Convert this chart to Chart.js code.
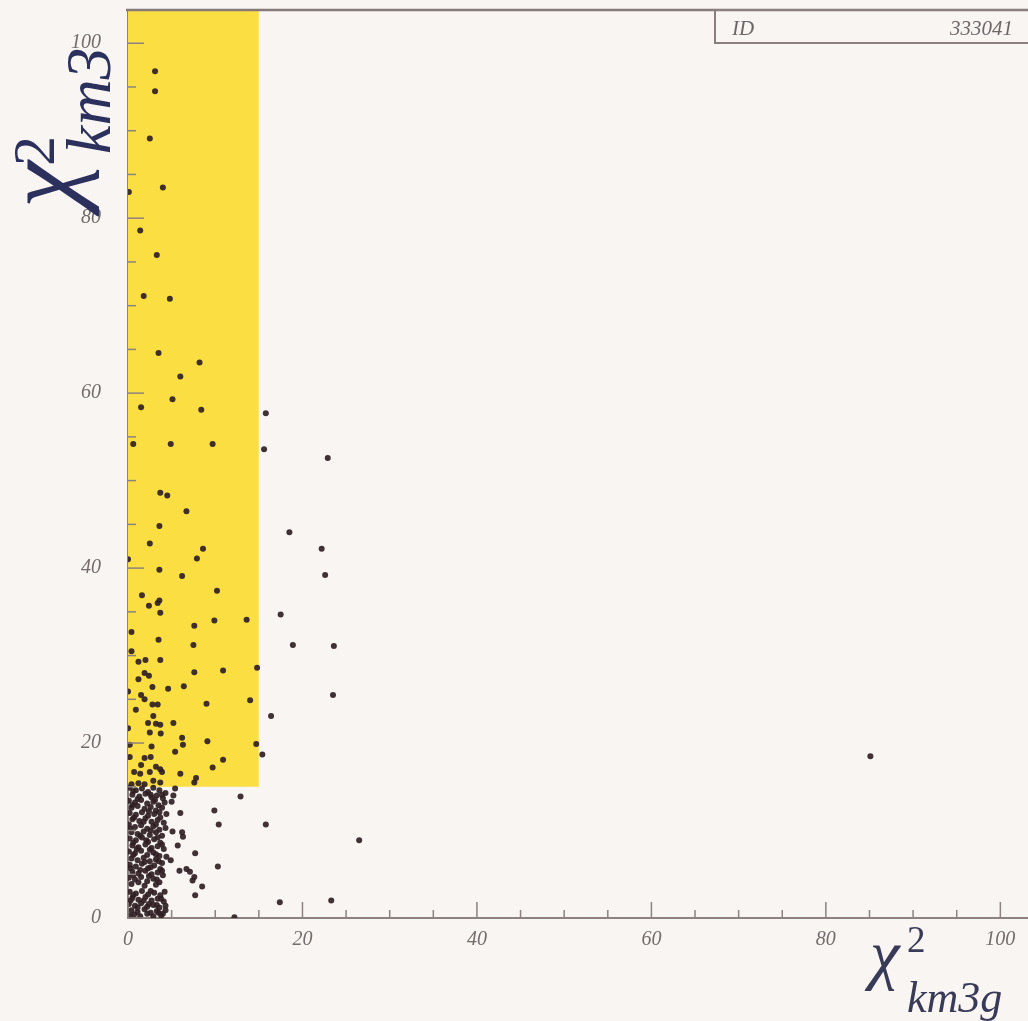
<!DOCTYPE html>
<html>
<head>
<meta charset="utf-8">
<title>chi2 km3 vs km3g</title>
<script src="https://cdn.jsdelivr.net/npm/chart.js@4.4.1/dist/chart.umd.min.js"></script>
<style>
    html, body { margin: 0; padding: 0; background: #f8f5f3; overflow: hidden; }
    #wrap { position: relative; width: 1040px; height: 1021px; }
</style>
</head>
<body>
<div id="wrap"><canvas id="myChart"></canvas></div>
<script>
// Axis ranges and labels
const xRange = [0, 103.4];
const yRange = [0, 103.8];
const tickStep = 5;
const labelStep = 20;
const histId = '333041';

// Cut region (yellow): chi2_km3g < 15 and chi2_km3 > 15
const cutX = [0, 15];
const cutY = 15;

// Events inside the cut region
const cutEvents = [
    [3.1,96.8],[3.1,94.5],[2.5,89.1],[4.0,83.5],[0.1,83.0],[1.4,78.6],[3.3,75.8],[1.8,71.1],
    [4.8,70.8],[3.5,64.6],[8.2,63.5],[6.0,61.9],[5.1,59.3],[1.5,58.4],[8.4,58.1],[0.6,54.2],
    [4.9,54.2],[9.7,54.2],[3.7,48.6],[4.5,48.3],[6.7,46.5],[3.6,44.8],[2.5,42.8],[8.6,42.2],
    [7.9,41.1],[0.0,41.0],[3.6,39.8],[6.2,39.1],[10.2,37.4],[1.6,36.9],[3.6,36.3],[3.4,36.0],
    [2.4,35.7],[3.7,34.9],[9.9,34.0],[13.6,34.1],[7.6,33.4],[0.4,32.7],[3.5,31.8],[7.5,31.2],
    [0.4,30.5],[3.7,29.5],[1.2,29.3],[2.0,29.5],[7.6,28.1],[10.9,28.3],[14.8,28.6],[1.9,28.0],
    [2.4,27.7],[1.2,27.3],[2.8,26.4],[4.6,26.2],[6.4,26.5],[0.0,25.9],[1.5,25.5],[1.9,25.0],
    [2.8,24.4],[3.4,24.4],[9.0,24.5],[14.0,24.9],[0.9,23.8],[2.9,23.1],[2.3,22.3],[3.2,22.2],
    [3.7,22.1],[5.2,22.3],[2.5,21.2],[3.75,21.1],[0.0,21.7],[6.2,20.6],[9.1,20.2],[14.7,19.9],
    [0.2,19.8],[2.7,19.6],[6.3,19.8],[15.4,18.7],[5.4,19.0],[0.2,18.4],[1.9,18.3],[2.6,18.4],
    [10.9,18.1],[1.5,17.5],[3.2,17.3],[3.7,17.0],[3.9,16.7],[9.7,17.2],[0.7,16.7],[1.4,16.5],
    [2.5,16.7],[6.0,16.5],[2.9,15.7],[3.7,15.5],[7.8,16.0],[7.6,15.5],[0.4,15.3],[1.2,15.4],
    [1.9,15.3]
];

// Events outside the cut, away from the core
const outerEvents = [
    [15.8,57.7],[15.6,53.6],[22.9,52.6],[18.5,44.1],[22.2,42.2],[22.6,39.2],[17.5,34.7],
    [18.9,31.2],[23.6,31.1],[23.5,25.5],[16.4,23.1],[15.8,10.7],[26.5,8.9],[17.4,1.8],
    [23.3,2.0],[85.1,18.5],[12.9,13.9],[9.9,12.3],[10.4,10.7],[12.2,0.1],[10.3,5.9],
    [5.4,14.8],[5.2,14.0],[5.0,13.3],[6.0,12.0],[5.1,9.9],[6.2,9.8],[6.3,9.3],[5.7,8.3],
    [7.7,7.4],[4.9,6.6],[5.9,5.4],[6.7,5.6],[7.1,5.3],[7.6,4.7],[7.4,4.3],[8.5,3.6],[7.7,2.6]
];

// Dense core at low chi2
const coreEvents = [
    [0.2,14.9],[0.9,14.6],[1.6,14.8],[2.3,14.4],[2.9,14.9],[3.6,14.6],[4.3,14.3],[0.5,14.1],
    [1.3,13.9],[2.0,14.2],[2.7,13.8],[3.3,14.0],[4.0,13.7],[0.1,13.4],[0.8,13.2],[1.5,13.5],
    [2.2,13.1],[2.9,13.3],[3.5,12.9],[4.2,13.2],[0.4,12.6],[1.1,12.8],[1.9,12.5],[2.6,12.7],
    [3.2,12.3],[3.9,12.6],[0.2,12.0],[0.9,11.8],[1.6,12.1],[2.3,11.7],[3.0,11.9],[3.7,11.5],
    [4.4,11.9],[0.5,11.3],[1.3,11.1],[2.0,11.4],[2.7,11.0],[3.4,11.2],[4.1,10.9],[0.1,10.7],
    [0.8,10.4],[1.5,10.6],[2.2,10.2],[2.9,10.5],[3.6,10.1],[0.4,9.8],[1.1,9.6],[1.8,9.9],
    [2.5,9.5],[3.2,9.8],[3.9,9.4],[4.3,10.3],[0.2,9.1],[0.9,8.9],[1.6,9.2],[2.3,8.7],
    [3.0,9.0],[3.7,8.6],[0.5,8.3],[1.2,8.1],[2.0,8.4],[2.7,8.0],[3.4,8.2],[4.1,7.9],
    [0.1,7.6],[0.8,7.4],[1.5,7.7],[2.2,7.2],[2.9,7.5],[3.6,7.1],[0.4,6.8],[1.1,6.6],
    [1.8,6.9],[2.5,6.5],[3.2,6.7],[3.9,6.3],[4.4,7.0],[0.2,6.1],[0.9,5.9],[1.6,6.2],
    [2.3,5.7],[3.0,6.0],[3.7,5.6],[0.5,5.3],[1.2,5.1],[2.0,5.4],[2.7,5.0],[3.4,5.2],
    [4.0,4.9],[0.1,4.6],[0.8,4.4],[1.5,4.7],[2.2,4.2],[2.9,4.5],[3.6,4.1],[0.4,3.9],
    [1.9,3.7],[3.2,3.8],[0.2,3.0],[0.9,2.8],[1.6,3.1],[2.3,2.7],[3.0,2.9],[3.7,2.6],
    [4.2,3.0],[0.5,2.3],[1.2,2.1],[2.0,2.4],[2.7,2.0],[3.4,2.2],[4.1,1.9],[0.1,1.6],
    [0.8,1.4],[1.5,1.7],[2.2,1.3],[2.9,1.5],[3.6,1.2],[4.3,1.4],[0.4,0.9],[1.1,0.7],
    [1.9,1.0],[2.6,0.6],[3.3,0.8],[4.0,0.5],[0.2,0.3],[1.4,0.2],[2.9,0.2],[3.8,0.3]
];

// Extra core events filling the densest part
const coreFill = [
    [0.6,14.5],[2.6,14.1],[3.9,14.1],[1.1,13.6],[3.1,13.5],[0.5,12.9],[2.4,12.2],[3.6,12.1],
    [0.7,11.5],[1.8,11.0],[3.2,10.7],[0.3,10.2],[2.6,10.0],[1.4,9.4],[3.4,9.2],[0.6,8.6],
    [2.1,8.9],[3.9,8.4],[1.0,7.9],[2.5,7.8],[3.2,7.3],[0.6,7.2],[1.9,6.4],[3.5,6.5],
    [0.3,5.7],[2.6,5.8],[3.9,5.4],[1.4,5.5],[0.6,4.9],[2.4,4.8],[3.3,4.4],[1.2,4.1],
    [0.6,2.6],[2.6,3.1],[3.8,2.2],[1.8,2.0],[0.3,2.0],[2.4,1.6],[3.3,1.5],[1.1,1.2],
    [0.7,0.4],[2.2,0.5],[3.5,0.6],[4.3,0.9]
];

const toPoints = arr => arr.map(([x, y]) => ({ x, y }));
const allEvents = [...coreEvents, ...coreFill, ...cutEvents, ...outerEvents];

const labelFont = { family: 'Liberation Serif', style: 'italic', size: 20 };
const axisGrey = '#8d8282';

// Draw chi^2 with superscript 2 and a subscript, in local coords
function drawChi(ctx, o) {
    ctx.fillStyle = o.color;
    ctx.textBaseline = 'alphabetic';
    ctx.textAlign = 'left';
    ctx.font = `italic ${o.big}px "Liberation Serif"`;
    ctx.fillText('\u03C7', 0, 0);
    ctx.font = `${o.supSize}px "Liberation Serif"`;
    ctx.fillText('2', o.supX, o.supY);
    ctx.font = `italic ${o.subSize}px "Liberation Serif"`;
    ctx.fillText(o.sub, o.subX, o.subY);
}

// fixed axis boxes, no extra label padding
function fixBox(size, vertical) {
    return s => {
        if (vertical) s.width = size; else s.height = size;
        s.paddingTop = 0;
        s.paddingBottom = 0;
        s.paddingLeft = 0;
        s.paddingRight = 0;
    };
}

const framePlugin = {
    id: 'pawFrame',
    afterDatasetsDraw(chart) {
        const { ctx, chartArea, scales: { x, y } } = chart;
        ctx.save();

        // inward tick marks
        ctx.strokeStyle = axisGrey;
        ctx.lineWidth = 1.5;
        x.ticks.forEach(t => {
            const px = x.getPixelForValue(t.value);
            const len = t.value % labelStep === 0 ? 16 : 8;
            ctx.beginPath();
            ctx.moveTo(px, chartArea.bottom);
            ctx.lineTo(px, chartArea.bottom - len);
            ctx.stroke();
        });
        y.ticks.forEach(t => {
            const py = y.getPixelForValue(t.value);
            const len = t.value % labelStep === 0 ? 16 : 8;
            ctx.beginPath();
            ctx.moveTo(chartArea.left, py);
            ctx.lineTo(chartArea.left + len, py);
            ctx.stroke();
        });

        // top frame line
        ctx.strokeStyle = '#857979';
        ctx.lineWidth = 2.5;
        ctx.beginPath();
        ctx.moveTo(chartArea.left - 2, chartArea.top);
        ctx.lineTo(chartArea.right, chartArea.top);
        ctx.stroke();

        // stats box
        ctx.lineWidth = 2;
        ctx.strokeStyle = '#8a7f7f';
        ctx.strokeRect(715, chartArea.top, 340, 33);
        ctx.fillStyle = '#6f6767';
        ctx.font = 'italic 21px "Liberation Serif"';
        ctx.textBaseline = 'alphabetic';
        ctx.textAlign = 'left';
        ctx.fillText('ID', 732, 35);
        ctx.textAlign = 'right';
        ctx.fillText(histId, 1013, 35);

        // y title, rotated
        ctx.save();
        ctx.translate(76, 208);
        ctx.rotate(-Math.PI / 2);
        drawChi(ctx, { color: '#2c305c', big: 106, supSize: 60, supX: 42, supY: -22,
                       sub: 'km3', subSize: 64, subX: 54, subY: 34 });
        ctx.restore();

        // x title
        ctx.save();
        ctx.translate(870, 977);
        drawChi(ctx, { color: '#383a58', big: 67, supSize: 37, supX: 37, supY: -25,
                       sub: 'km3g', subSize: 44, subX: 37, subY: 35 });
        ctx.restore();

        ctx.restore();
    }
};

const ctx = document.getElementById('myChart').getContext('2d');
new Chart(ctx, {
    type: 'scatter',
    data: {
        datasets: [
            {
                type: 'line',
                label: 'cut',
                data: [{ x: cutX[0], y: yRange[1] }, { x: cutX[1], y: yRange[1] }],
                backgroundColor: 'rgb(250, 222, 66)',
                borderWidth: 0,
                pointRadius: 0,
                fill: { value: cutY },
                order: 2
            },
            {
                label: 'events',
                data: toPoints(allEvents),
                backgroundColor: 'rgba(48, 32, 36, 0.92)',
                borderWidth: 0,
                pointRadius: 3,
                order: 1
            }
        ]
    },
    options: {
        responsive: true,
        maintainAspectRatio: false,
        animation: false,
        layout: { padding: { top: 10, right: 10, left: 0, bottom: 0 } },
        plugins: {
            legend: { display: false },
            tooltip: { enabled: false }
        },
        scales: {
            x: {
                type: 'linear',
                min: xRange[0],
                max: xRange[1],
                afterFit: fixBox(103, false),
                grid: { display: false, drawTicks: false },
                border: { display: true, color: axisGrey, width: 2 },
                ticks: {
                    stepSize: tickStep,
                    autoSkip: false,
                    includeBounds: false,
                    maxRotation: 0,
                    padding: 10,
                    color: '#746c6c',
                    font: labelFont,
                    callback: v => (v % labelStep === 0 ? String(v) : '')
                }
            },
            y: {
                type: 'linear',
                min: yRange[0],
                max: yRange[1],
                afterFit: fixBox(128, true),
                grid: { display: false, drawTicks: false },
                border: { display: true, color: axisGrey, width: 2 },
                ticks: {
                    stepSize: tickStep,
                    autoSkip: false,
                    includeBounds: false,
                    padding: 27,
                    color: '#746c6c',
                    font: labelFont,
                    callback: v => (v % labelStep === 0 ? String(v) : '')
                }
            }
        }
    },
    plugins: [framePlugin]
});
</script>
</body>
</html>
